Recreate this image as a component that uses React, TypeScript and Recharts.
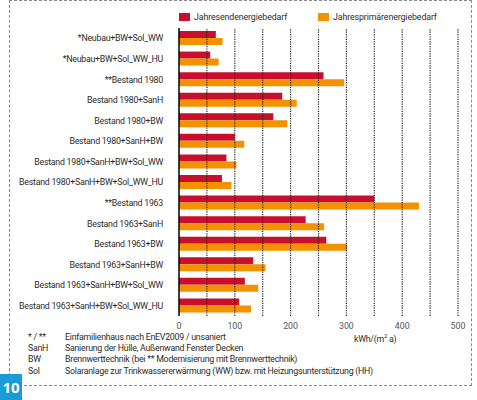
import { BarChart, Bar, XAxis, YAxis, ReferenceLine } from "recharts";

// Kategorien von oben nach unten
const categories = [
  "*Neubau+BW+Sol_WW",
  "*Neubau+BW+Sol_WW_HU",
  "**Bestand 1980",
  "Bestand 1980+SanH",
  "Bestand 1980+BW",
  "Bestand 1980+SanH+BW",
  "Bestand 1980+SanH+BW+Sol_WW",
  "Bestand 1980+SanH+BW+Sol_WW_HU",
  "**Bestand 1963",
  "Bestand 1963+SanH",
  "Bestand 1963+BW",
  "Bestand 1963+SanH+BW",
  "Bestand 1963+SanH+BW+Sol_WW",
  "Bestand 1963+SanH+BW+Sol_WW_HU",
];

const endenergie = [66, 56, 259, 185, 169, 100, 85, 77, 350, 227, 264, 133, 118, 108];
const primaerenergie = [78, 71, 296, 211, 194, 117, 103, 94, 430, 260, 301, 155, 142, 129];

const xTicks = [0, 100, 200, 300, 400, 500];
const gridValues = [50, 100, 150, 200, 250, 300, 350, 400, 450, 500];

const footnotes = [
  ["* / **", "Einfamilienhaus nach EnEV2009  / unsaniert"],
  ["SanH", "Sanierung der Hülle, Außenwand Fenster Decken"],
  ["BW", "Brennwerttechnik (bei ** Modernisierung mit Brennwerttechnik)"],
  ["Sol", "Solaranlage zur Trinkwassererwärmung (WW) bzw. mit Heizungsunterstützung (HH)"],
];

const RED = "#c8102e";
const ORANGE = "#f39200";
const TEXT = "#2b2b2b";
const FONT = "Roboto, 'Noto Sans', sans-serif";
const FS = 8.8;
const LS = "-0.25px";

const data = categories.map((name, i) => ({
  name,
  end: endenergie[i],
  prim: primaerenergie[i],
}));

// eigener Tick, damit lange Namen nicht umbrechen
function CategoryTick(props: any) {
  const { x, y, payload } = props;
  return (
    <text
      x={x - 8}
      y={y}
      dy="0.35em"
      textAnchor="end"
      fontSize={FS}
      fill={TEXT}
      fontFamily={FONT}
      style={{ letterSpacing: LS }}
    >
      {payload.value}
    </text>
  );
}

function LegendBox() {
  const item = (color: string, label: string, left: number) => (
    <div style={{ position: "absolute", left, top: 12, display: "flex", alignItems: "center" }}>
      <div style={{ width: 11, height: 8, background: color, marginRight: 4 }} />
      <span style={{ fontSize: FS, color: TEXT, letterSpacing: "-0.1px" }}>{label}</span>
    </div>
  );
  return (
    <>
      {item(RED, "Jahresendenergiebedarf", 179)}
      {item(ORANGE, "Jahresprimärenergiebedarf", 318)}
    </>
  );
}

export default function App() {
  return (
    <div
      style={{
        position: "fixed",
        left: 0,
        top: 0,
        width: 477,
        height: 400,
        background: "#fff",
        fontFamily: FONT,
        overflow: "hidden",
      }}
    >
      {/* gestrichelter Rahmen */}
      <div
        style={{
          position: "absolute",
          left: 9,
          top: 0,
          width: 463,
          height: 386,
          border: "1px dashed #8a8a8a",
          boxSizing: "border-box",
        }}
      />

      <div style={{ position: "absolute", left: 0, top: 0 }}>
        <BarChart
          width={477}
          height={400}
          data={data}
          layout="vertical"
          margin={{ top: 28, right: 19, bottom: 0, left: 0 }}
          barGap={0}
          barSize={7}
        >
          <XAxis
            type="number"
            domain={[0, 500]}
            ticks={xTicks}
            axisLine={false}
            tickLine={false}
            tickSize={5}
            height={84}
            tick={{ fontSize: FS, fill: "#555", fontFamily: FONT }}
          />
          <YAxis
            type="category"
            dataKey="name"
            width={179}
            tickLine={false}
            axisLine={{ stroke: "#000", strokeWidth: 1.5 }}
            interval={0}
            tick={<CategoryTick />}
          />
          {gridValues.map((v) => (
            <ReferenceLine
              key={v}
              x={v}
              stroke="#222"
              strokeWidth={1.2}
              strokeDasharray="1.2 1.2"
              ifOverflow="extendDomain"
            />
          ))}
          <Bar dataKey="end" fill={RED} isAnimationActive={false} />
          <Bar dataKey="prim" fill={ORANGE} isAnimationActive={false} />
        </BarChart>
      </div>

      <LegendBox />

      <div style={{ position: "absolute", left: 354, top: 332, fontSize: FS, color: TEXT, letterSpacing: LS }}>
        kWh/(m<sup style={{ fontSize: 6 }}>2</sup> a)
      </div>

      {footnotes.map(([k, v], i) => (
        <div
          key={k}
          style={{
            position: "absolute",
            top: 331 + i * 11.2,
            left: 0,
            fontSize: FS,
            color: TEXT,
            whiteSpace: "nowrap",
            lineHeight: "12px",
            letterSpacing: LS,
          }}
        >
          <span style={{ position: "absolute", left: 28 }}>{k}</span>
          <span style={{ position: "absolute", left: 65 }}>{v}</span>
        </div>
      ))}

      <div
        style={{
          position: "absolute",
          left: 0,
          top: 374,
          width: 22,
          height: 26,
          background: "#1a9ad6",
          color: "#fff",
          fontWeight: "bold",
          fontSize: 15,
          lineHeight: "26px",
          textAlign: "center",
          fontFamily: "'Open Sans', sans-serif",
        }}
      >
        10
      </div>
    </div>
  );
}
